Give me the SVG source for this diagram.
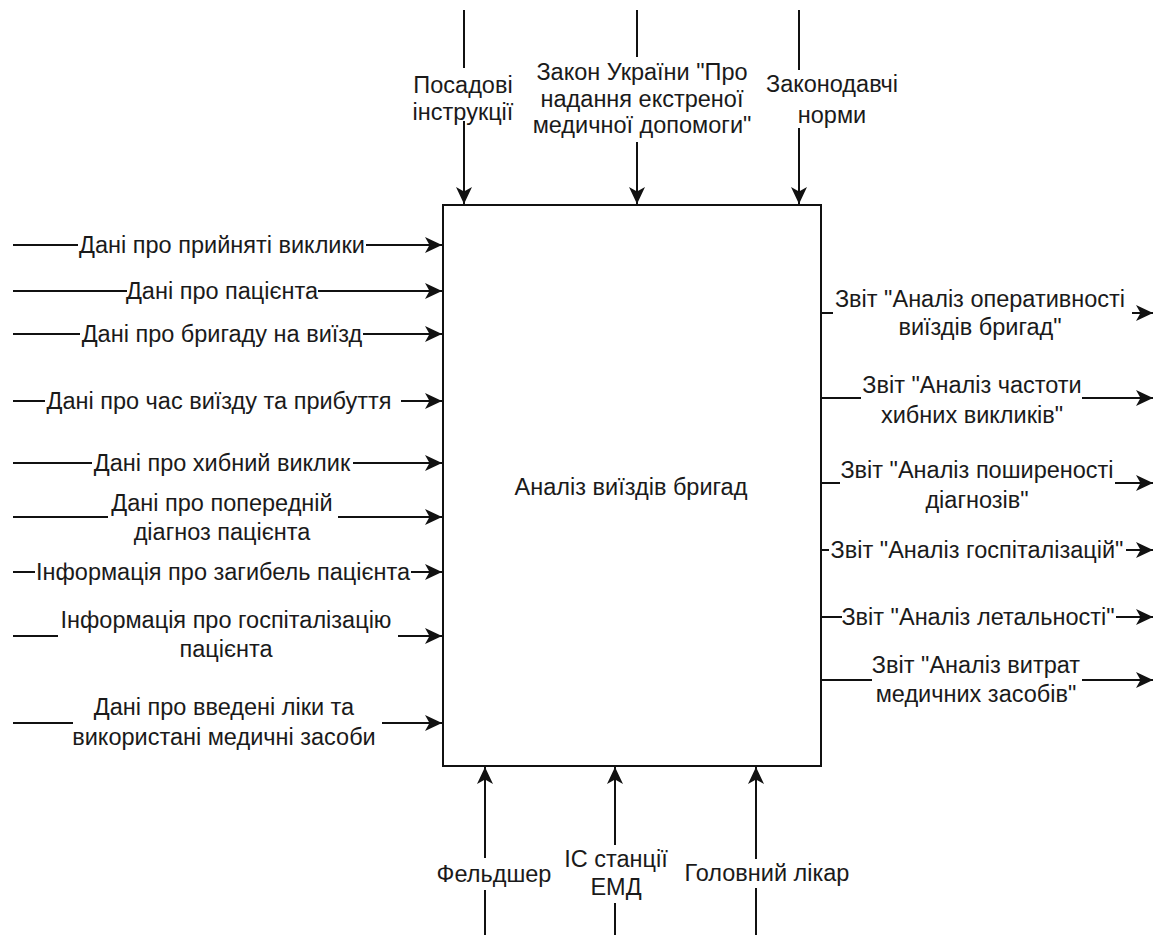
<svg xmlns="http://www.w3.org/2000/svg" width="1161" height="935" viewBox="0 0 1161 935">
  <defs>
    <style>
      .edge { fill: none; stroke: #111; stroke-width: 2; marker-end: url(#arrow); }
      .box { fill: #fff; stroke: #111; stroke-width: 2; }
      text { font-family: "Liberation Sans", Arial, sans-serif; font-size: 23.5px; fill: #1a1a1a; text-anchor: middle; }
    </style>
    <marker id="arrow" viewBox="0 0 17 16" refX="17" refY="8" markerWidth="17" markerHeight="16" markerUnits="userSpaceOnUse" orient="auto">
      <path d="M0,0 L17,8 L0,16 L4.5,8 Z" fill="#111"/>
    </marker>
  </defs>

  <rect width="1161" height="935" fill="#fff"/>

  <!-- A0 activity block -->
  <g id="process">
    <rect class="box" x="443" y="205" width="378" height="561"/>
    <text x="631" y="495">Аналіз виїздів бригад</text>
  </g>

  <!-- ICOM arrows: controls (top), inputs (left), outputs (right), mechanisms (bottom) -->
  <g id="connectors">
    <!-- controls -->
    <path class="edge" d="M464,10 V68 M464,121 V204"/>
    <path class="edge" d="M637,10 V57 M637,142 V204"/>
    <path class="edge" d="M799,10 V70 M799,128 V204"/>
    <!-- inputs -->
    <path class="edge" d="M13,245 H78 M366,245 H442"/>
    <path class="edge" d="M13,291 H127 M318,291 H442"/>
    <path class="edge" d="M13,334 H80 M363,334 H442"/>
    <path class="edge" d="M13,401 H45 M401,401 H442"/>
    <path class="edge" d="M13,463 H92 M353,463 H442"/>
    <path class="edge" d="M13,517 H108 M338,517 H442"/>
    <path class="edge" d="M13,572 H35 M411,572 H442"/>
    <path class="edge" d="M13,636 H58 M398,636 H442"/>
    <path class="edge" d="M13,723 H73 M382,723 H442"/>
    <!-- outputs -->
    <path class="edge" d="M821,313 H833 M1132,313 H1153"/>
    <path class="edge" d="M821,398 H861 M1082,398 H1153"/>
    <path class="edge" d="M821,483 H840 M1115,483 H1153"/>
    <path class="edge" d="M821,550 H829 M1126,550 H1153"/>
    <path class="edge" d="M821,617 H842 M1116,617 H1153"/>
    <path class="edge" d="M821,680 H872 M1082,680 H1153"/>
    <!-- mechanisms -->
    <path class="edge" d="M485,935 V890 M485,858 V767"/>
    <path class="edge" d="M615,935 V903 M615,845 V767"/>
    <path class="edge" d="M756,935 V888 M756,859 V767"/>
  </g>

  <g id="connector-labels">
    <!-- controls -->
    <text x="463"><tspan x="463" y="93">Посадові</tspan><tspan x="463" y="120">інструкції</tspan></text>
    <text x="642"><tspan x="642" y="80">Закон України "Про</tspan><tspan x="642" y="107">надання екстреної</tspan><tspan x="642" y="133">медичної допомоги"</tspan></text>
    <text x="832"><tspan x="832" y="92">Законодавчі</tspan><tspan x="832" y="123">норми</tspan></text>
    <!-- inputs -->
    <text x="222" y="253">Дані про прийняті виклики</text>
    <text x="222" y="299">Дані про пацієнта</text>
    <text x="222" y="342">Дані про бригаду на виїзд</text>
    <text x="219" y="409">Дані про час виїзду та прибуття</text>
    <text x="222" y="471">Дані про хибний виклик</text>
    <text x="222"><tspan x="222" y="511">Дані про попередній</tspan><tspan x="222" y="540">діагноз пацієнта</tspan></text>
    <text x="223" y="580">Інформація про загибель пацієнта</text>
    <text x="226"><tspan x="226" y="628">Інформація про госпіталізацію</tspan><tspan x="226" y="657">пацієнта</tspan></text>
    <text x="224"><tspan x="224" y="715">Дані про введені ліки та</tspan><tspan x="224" y="745">використані медичні засоби</tspan></text>
    <!-- outputs -->
    <text x="980"><tspan x="980" y="307">Звіт "Аналіз оперативності</tspan><tspan x="980" y="335">виїздів бригад"</tspan></text>
    <text x="972"><tspan x="972" y="393">Звіт "Аналіз частоти</tspan><tspan x="972" y="423">хибних викликів"</tspan></text>
    <text x="977"><tspan x="977" y="478">Звіт "Аналіз поширеності</tspan><tspan x="977" y="508">діагнозів"</tspan></text>
    <text x="977" y="558">Звіт "Аналіз госпіталізацій"</text>
    <text x="978" y="625">Звіт "Аналіз летальності"</text>
    <text x="976"><tspan x="976" y="673">Звіт "Аналіз витрат</tspan><tspan x="976" y="702">медичних засобів"</tspan></text>
    <!-- mechanisms -->
    <text x="494" y="882">Фельдшер</text>
    <text x="616"><tspan x="616" y="867">ІС станції</tspan><tspan x="616" y="895">ЕМД</tspan></text>
    <text x="767" y="881">Головний лікар</text>
  </g>
</svg>
